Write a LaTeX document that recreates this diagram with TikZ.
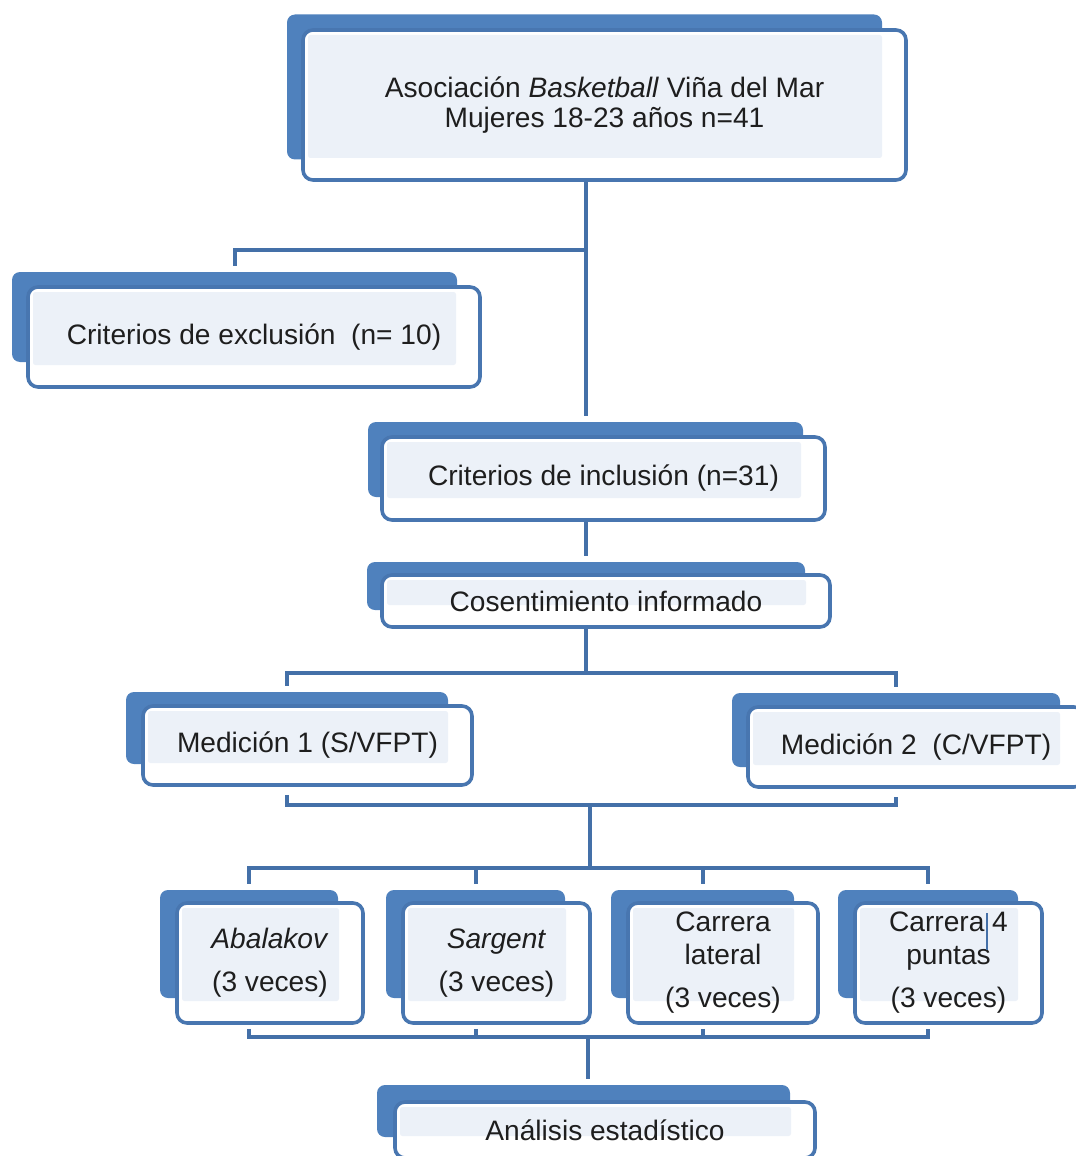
\documentclass[tikz,border=0pt]{standalone}
\usepackage{fontspec}
\setmainfont{Liberation Sans}
\usetikzlibrary{backgrounds}
\definecolor{tabblue}{RGB}{79,129,189}
\definecolor{edgeblue}{RGB}{72,118,176}
\definecolor{linkblue}{RGB}{68,112,168}
\definecolor{paleblue}{RGB}{236,241,248}
\definecolor{txt}{RGB}{30,30,30}

\tikzset{
  sz/.style 2 args={minimum width=#1*0.025cm, minimum height=#2*0.025cm},
  backbox/.style={fill=tabblue, rounded corners=0.2cm, inner sep=0pt},
  frontbox/.style={draw=edgeblue, line width=0.09cm, fill=white, rounded corners=0.25cm,
    inner sep=0pt, align=center, text=txt, font=\fontsize{20}{23.5}\selectfont,
    path picture={\fill[paleblue, rounded corners=0.06cm]
      ([shift={(5,5)}]path picture bounding box.north west) rectangle
      ([shift={(-24,-22)}]path picture bounding box.south east);}},
  conn/.style={draw=linkblue, line width=0.1cm},
}

\begin{document}
\begin{tikzpicture}[x=0.025cm, y=-0.025cm]
\useasboundingbox (0,0) rectangle (1076,1156);
\clip (0,0) rectangle (1076,1156);

% top box
\node[backbox, sz={595}{145}] (asoc-bk) at (584.5,87) {};
\node[frontbox, sz={603}{150}] (asoc) at (604.5,105) {Asociación \textit{Basketball} Viña del Mar\\[-2.5pt]Mujeres 18-23 años n=41};

% exclusion / inclusion
\node[backbox, sz={445}{90}] (excl-bk) at (234.5,317) {};
\node[frontbox, sz={452}{100}] (excl) at (254,337) {Criterios de exclusión~~(n= 10)};
\node[backbox, sz={435}{75}] (incl-bk) at (585.5,459.5) {};
\node[frontbox, sz={443}{83}] (incl) at (603.5,478.5) {Criterios de inclusión (n=31)};

% consent
\node[backbox, sz={438}{48}] (cons-bk) at (586,586) {};
\node[frontbox, sz={448}{52}] (cons) at (606,601) {Cosentimiento informado};

% the two measurements
\node[backbox, sz={322}{72}] (med1-bk) at (287,728) {};
\node[frontbox, sz={329}{79}] (med1) at (307.5,745.5) {Medición 1 (S/VFPT)};
\node[backbox, sz={328}{74}] (med2-bk) at (896,730) {};
\node[frontbox, sz={336}{80}] (med2) at (916,747) {Medición 2~~(C/VFPT)};

% tests
\node[backbox, sz={178}{108}] (abal-bk) at (249,944) {};
\node[frontbox, sz={186}{120}] (abal) at (270,963) {\textit{Abalakov}\\[7pt](3 veces)};
\node[backbox, sz={179}{108}] (sarg-bk) at (475.5,944) {};
\node[frontbox, sz={187}{120}] (sarg) at (496.5,963) {\textit{Sargent}\\[7pt](3 veces)};
\node[backbox, sz={183}{108}] (lat-bk) at (702.5,944) {};
\node[frontbox, sz={190}{120}] (lat) at (723,963) {Carrera\\lateral\\[7pt](3 veces)};
\node[backbox, sz={180}{108}] (punt-bk) at (928,944) {};
\node[frontbox, sz={187}{120}] (punt) at (948.5,963) {Carrera 4\\puntas\\[7pt](3 veces)};
\draw[linkblue, line width=0.06cm] (987,913) -- (987,950);

% analysis
\node[backbox, sz={413}{52}] (anal-bk) at (583.5,1111) {};
\node[frontbox, sz={420}{56}] (anal) at (605,1130) {Análisis estadístico};

% links
\coordinate (split1) at (586,250);
\coordinate (split2) at (586,673);
\coordinate (split3) at (590,805);
\coordinate (split4) at (590,868);
\coordinate (split5) at (588,1037);
\begin{scope}[on background layer]
\draw[conn, shorten >=0.15cm] (split1 |- asoc-bk.center) -- (split1 |- incl-bk.north);
\draw[conn, shorten >=0.15cm] (split1) -| (excl-bk.north);
\draw[conn, shorten >=0.15cm] (split1 |- incl-bk.center) -- (split1 |- cons-bk.north);
\draw[conn] (split2 |- cons-bk.center) -- (split2);
\draw[conn, shorten <=0.15cm, shorten >=0.15cm] (med1-bk.north) |- (split2) -| (med2-bk.north);
\draw[conn, shorten <=0.2cm, shorten >=0.2cm] (med1-bk |- med1.south) |- (split3) -| (med2-bk |- med2.south);
\draw[conn] (split3) -- (split4);
\draw[conn, shorten <=0.15cm, shorten >=0.15cm] (abal-bk.north) |- (split4) -| (punt-bk.north);
\draw[conn, shorten >=0.15cm] (split4 -| sarg-bk) -- (sarg-bk.north);
\draw[conn, shorten >=0.15cm] (split4 -| lat-bk) -- (lat-bk.north);
\draw[conn, shorten <=0.1cm, shorten >=0.1cm] (abal-bk |- abal.south) |- (split5) -| (punt-bk |- punt.south);
\draw[conn, shorten <=0.1cm] (sarg-bk |- sarg.south) -- (split5 -| sarg-bk);
\draw[conn, shorten <=0.1cm] (lat-bk |- lat.south) -- (split5 -| lat-bk);
\draw[conn, shorten >=0.15cm] (split5) -- (split5 |- anal-bk.north);
\end{scope}
\end{tikzpicture}
\end{document}
